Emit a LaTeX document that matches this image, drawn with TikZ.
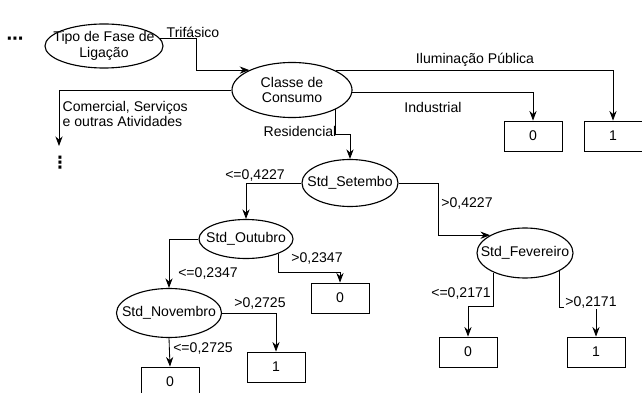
\documentclass[tikz,border=0pt]{standalone}
\usepackage{fontspec}
\setmainfont{Liberation Sans}
\newfontfamily\symfont{DejaVu Sans}
\usetikzlibrary{arrows.meta,shapes.geometric}

\begin{document}
\begin{tikzpicture}[
    x=0.025cm, y=-0.025cm,
    split/.style={draw, ellipse, thick, inner xsep=-8pt, inner ysep=-4pt,
                  align=center, font=\fontsize{10}{11}\selectfont},
    leaf/.style={draw, semithick, minimum width=1.45cm, minimum height=0.75cm,
                 font=\fontsize{10}{11}\selectfont},
    arr/.style={-{Stealth[length=2.4mm,width=1.8mm]}, semithick},
    lbl/.style={inner sep=1pt, align=left, font=\fontsize{10}{11}\selectfont}
  ]
  \useasboundingbox (0,0) rectangle (642,393);

  % Split nodes
  \node[split, minimum width=2.95cm, minimum height=1.1cm] (tipo) at (104,46) {Tipo de Fase de\\Ligação};
  \node[split, minimum width=3.0cm, minimum height=1.375cm] (classe) at (292,90) {Classe de\\Consumo};
  \node[split, minimum width=2.4cm, minimum height=1.175cm] (setembro) at (350,183) {Std\_Setembo};
  \node[split, minimum width=2.35cm, minimum height=0.975cm] (outubro) at (246,239) {Std\_Outubro};
  \node[split, minimum width=2.625cm, minimum height=1.225cm] (novembro) at (169,313) {Std\_Novembro};
  \node[split, minimum width=2.4cm, minimum height=1.25cm] (fevereiro) at (525,253) {Std\_Fevereiro};

  % Leaves
  \node[leaf] (ind0) at (533,136) {0};
  \node[leaf] (ilum1) at (613,136) {1};
  \node[leaf] (out0) at (340,298) {0};
  \node[leaf] (nov1) at (276,367) {1};
  \node[leaf] (nov0) at (170,382) {0};
  \node[leaf] (fev0) at (468,352) {0};
  \node[leaf] (fev1) at (596,352) {1};

  % Elided parts
  \node[font=\symfont\bfseries\fontsize{12}{12}\selectfont] (more) at (15,41) {⋯};
  \coordinate (com) at (59,146);
  \node[font=\symfont\bfseries\fontsize{12}{12}\selectfont] (vdots) at (60,163) {⋮};

  % Arrows
  \draw[arr] (tipo.8) -- ++(37,0) |- (classe.155);
  \draw[arr] (classe.west) -| (com);
  \draw[arr] (classe.24) -| (ilum1.north);
  \draw[arr] (classe.-2) -| (ind0.north);
  \draw[arr] (classe.-24) -- ++(0,25) -| (setembro.north);
  \draw[arr] (setembro.west) -| (outubro.north);
  \draw[arr] (setembro.east) -- ++(40,0) |- (fevereiro.153);
  \draw[arr] (outubro.west) -| (novembro.north);
  \draw[arr] (outubro.-24) -- ++(0,19) -| (out0.north);
  \draw[arr] (novembro.east) -| (nov1.north);
  \draw[arr] (novembro.south) -- (nov0.north);
  \draw[arr] (fevereiro.-148) -- ++(0,34) -| (fev0.north);
  \draw[arr] (fevereiro.-27) -- ++(0,37) -| (fev1.north);

  % Labels
  \node[lbl] (ltri) at (193,32) {Trifásico};
  \node[lbl, anchor=west] (lcom) at (61,114) {Comercial, Serviços\\e outras Atividades};
  \node[lbl] (lilum) at (475,60) {Iluminação Pública};
  \node[lbl] (lind) at (433,107) {Industrial};
  \node[lbl] (lres) at (300,131) {Residencial};
  \node[lbl] (lset1) at (255,175) {<=0,4227};
  \node[lbl] (lset2) at (467,203) {>0,4227};
  \node[lbl] (lout1) at (208,273) {<=0,2347};
  \node[lbl] (lout2) at (317,258) {>0,2347};
  \node[lbl] (lnov2) at (260,303) {>0,2725};
  \node[lbl] (lnov1) at (203,348) {<=0,2725};
  \node[lbl] (lfev1) at (461,293) {<=0,2171};
  \node[lbl, fill=white] (lfev2) at (591,302) {>0,2171};
\end{tikzpicture}
\end{document}
